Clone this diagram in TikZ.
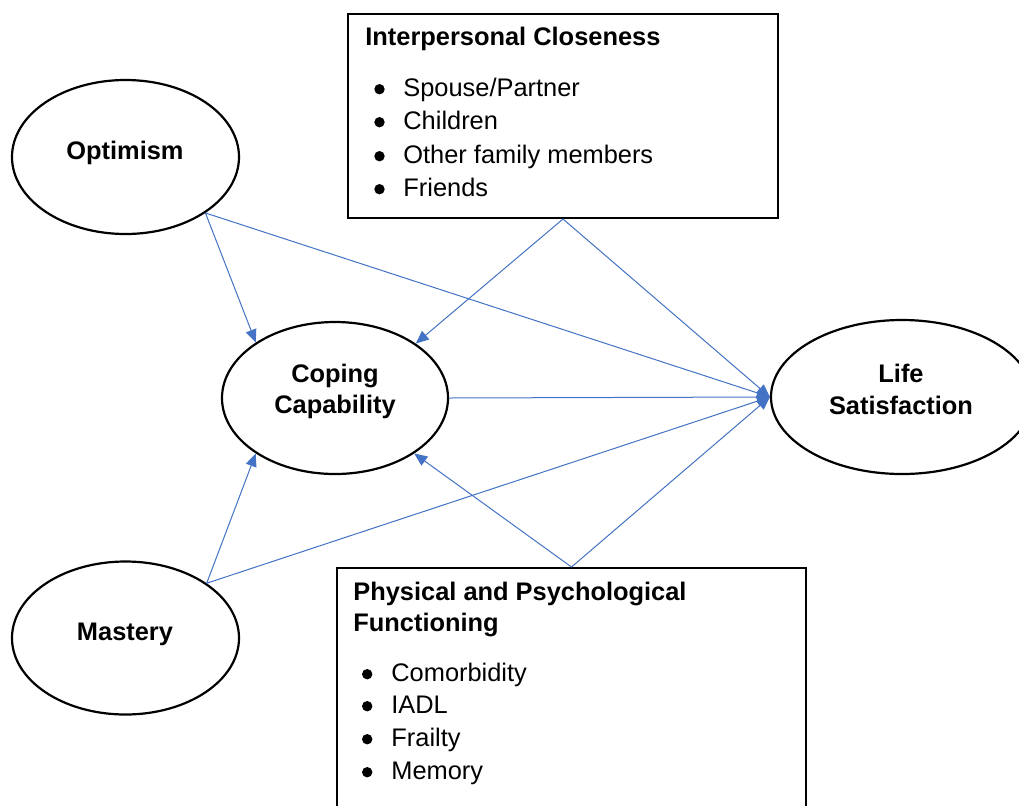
\documentclass[tikz,border=0pt]{standalone}
\usepackage{fontspec}
\setmainfont{Liberation Sans}
\usetikzlibrary{arrows.meta,shapes.geometric}
\definecolor{arrowblue}{HTML}{4472C4}
\begin{document}
\begin{tikzpicture}[x=0.5pt,y=-0.5pt,
  oval/.style={draw=black, line width=1.1pt, ellipse, inner sep=0pt},
  panel/.style={draw=black, line width=1pt, rectangle, inner sep=0pt, anchor=north west},
  lbl/.style={font=\fontsize{12.7pt}{15.8pt}\selectfont\bfseries, anchor=base, inner sep=0pt},
  ttl/.style={font=\fontsize{12.7pt}{15.8pt}\selectfont\bfseries, anchor=base west, inner sep=0pt},
  item/.style={font=\fontsize{12.7pt}{15.8pt}\selectfont, anchor=base west, inner sep=0pt},
  dot/.style={fill=black},
  link/.style={draw=arrowblue, line width=0.5pt, -{Triangle[length=6.5pt,width=5.5pt]}}
]
\useasboundingbox (0,0) rectangle (1019,805);
\clip (0,0) rectangle (1019,805);
\fill[white] (0,0) rectangle (1019,805);

% ellipses
\node[oval, minimum width=113.5pt, minimum height=77pt] (opt) at (125.5,157) {};
\node[oval, minimum width=113pt, minimum height=76pt] (cop) at (335,398) {};
\node[oval, minimum width=131pt, minimum height=77pt] (life) at (902,397) {};
\node[oval, minimum width=113.5pt, minimum height=76.5pt] (mas) at (125.5,638) {};

\node[lbl] (optL) at (125,159) {Optimism};
\node[lbl] (copL1) at (335,382) {Coping};
\node[lbl] (copL2) at (335,413.5) {Capability};
\node[lbl] (lifeL1) at (901,382) {Life};
\node[lbl] (lifeL2) at (901,414) {Satisfaction};
\node[lbl] (masL) at (125,640) {Mastery};

% boxes
\node[panel, minimum width=215pt, minimum height=102pt] (ic) at (347,13) {};
\node[panel, minimum width=234.5pt, minimum height=125pt] (pp) at (336,567) {};

\node[ttl] (icT) at (365,45) {Interpersonal Closeness};
\node[item] (ic1) at (403,96) {Spouse/Partner};
\node[item] (ic2) at (403,129) {Children};
\node[item] (ic3) at (403,163) {Other family members};
\node[item] (ic4) at (403,196) {Friends};
\foreach \n in {ic1,ic2,ic3,ic4}
  \fill[dot] ([xshift=-11.75pt,yshift=3.4pt]\n.base west) circle[radius=2.6pt];

\node[ttl] (ppT1) at (353,600) {Physical and Psychological};
\node[ttl] (ppT2) at (353,631) {Functioning};
\node[item] (pp1) at (391,681) {Comorbidity};
\node[item] (pp2) at (391,713) {IADL};
\node[item] (pp3) at (391,746) {Frailty};
\node[item] (pp4) at (391,779) {Memory};
\foreach \n in {pp1,pp2,pp3,pp4}
  \fill[dot] ([xshift=-11.9pt,yshift=3.4pt]\n.base west) circle[radius=2.6pt];

% connectors
\draw[link] (opt.-35) -- (cop.145);
\draw[link] (opt.-35) -- (life.west);
\draw[link] (ic.south) -- (cop.34);
\draw[link] (ic.south) -- (life.west);
\draw[link] (cop.east) -- (life.west);
\draw[link] (mas.34) -- (cop.-145);
\draw[link] (mas.34) -- (life.west);
\draw[link] (pp.north) -- (cop.-35);
\draw[link] (pp.north) -- (life.west);
\end{tikzpicture}
\end{document}
